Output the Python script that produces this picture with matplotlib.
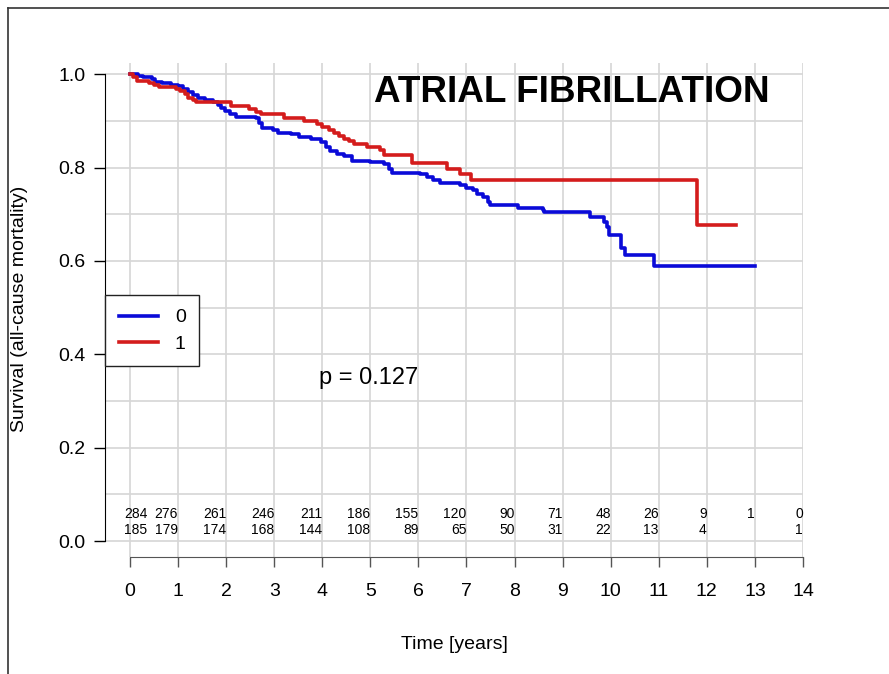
import matplotlib
matplotlib.use('Agg')

import numpy as np
import matplotlib.pyplot as plt
from matplotlib.lines import Line2D

plt.rcParams['font.family'] = ['Liberation Sans', 'DejaVu Sans']

# group 0 (no AF), step points
t0 = [0, 0.17, 0.28, 0.45, 0.52, 0.66, 0.86, 1.0, 1.1, 1.21, 1.31, 1.41, 1.55,
      1.72, 1.83, 1.9, 1.97, 2.07, 2.21, 2.62, 2.69, 2.74, 2.97, 3.07, 3.34, 3.52,
      3.76, 3.97, 4.07, 4.17, 4.31, 4.45, 4.62, 5.0, 5.28, 5.38, 5.45, 6.03, 6.17,
      6.31, 6.45, 6.86, 7.0, 7.14, 7.21, 7.34, 7.45, 7.48, 8.07, 8.59, 8.62, 9.57,
      9.86, 9.93, 9.97, 10.22, 10.29, 10.9, 13.0]
s0 = [1.0, 0.997, 0.993, 0.990, 0.983, 0.981, 0.977, 0.974, 0.969, 0.962, 0.956, 0.949, 0.945,
      0.941, 0.934, 0.927, 0.921, 0.914, 0.909, 0.906, 0.895, 0.884, 0.881, 0.874, 0.871, 0.865,
      0.861, 0.854, 0.844, 0.835, 0.830, 0.824, 0.815, 0.812, 0.807, 0.798, 0.789, 0.787, 0.780,
      0.773, 0.768, 0.763, 0.756, 0.751, 0.744, 0.737, 0.726, 0.720, 0.714, 0.710, 0.704, 0.694,
      0.684, 0.673, 0.656, 0.627, 0.612, 0.589, 0.589]

# group 1 (AF)
t1 = [0, 0.07, 0.14, 0.4, 0.5, 0.6, 0.95, 1.03, 1.14, 1.21, 1.31, 1.38, 2.1, 2.48,
      2.62, 2.72, 3.2, 3.62, 3.9, 4.0, 4.14, 4.24, 4.34, 4.45, 4.55, 4.66, 4.93, 5.21,
      5.28, 5.86, 6.59, 6.86, 7.1, 11.79, 12.6]
s1 = [1.0, 0.993, 0.986, 0.981, 0.976, 0.972, 0.969, 0.964, 0.957, 0.950, 0.945, 0.941, 0.931, 0.926,
      0.920, 0.914, 0.907, 0.900, 0.894, 0.886, 0.881, 0.875, 0.868, 0.861, 0.856, 0.851, 0.844, 0.838,
      0.827, 0.810, 0.798, 0.787, 0.773, 0.677, 0.677]

risk_times = list(range(15))
risk0 = ['284', '276', '261', '246', '211', '186', '155', '120', '90', '71', '48', '26', '9', '1', '0']
risk1 = ['185', '179', '174', '168', '144', '108', '89', '65', '50', '31', '22', '13', '4', '', '1']

group_labels = ['0', '1']
colors = ['#0a0ad8', '#d41c1c']

fig = plt.figure(figsize=(8.89, 6.74), dpi=100)
ax = fig.add_axes([105/889., 1 - 557/674., 698/889., 494/674.])

ax.set_xlim(-0.52, 14.0)
ax.set_ylim(-0.034, 1.024)

ax.set_xticks(np.arange(0, 15, 1), minor=False)
ax.set_yticks(np.arange(0, 1.01, 0.1), minor=True)
ax.set_yticks([0, 0.2, 0.4, 0.6, 0.8, 1.0])
ax.set_yticklabels(['0.0', '0.2', '0.4', '0.6', '0.8', '1.0'])
ax.grid(True, which='both', color='#d6d6d6', linewidth=1.2)
ax.tick_params(axis='y', which='minor', length=0)
ax.set_axisbelow(True)

for side in ['top', 'right']:
    ax.spines[side].set_visible(False)
ax.spines['left'].set_bounds(0, 1)
ax.spines['bottom'].set_bounds(0, 14)
ax.spines['bottom'].set_color('#555555')
ax.tick_params(axis='y', labelsize=14, length=8, width=1, pad=6)
ax.tick_params(axis='x', labelsize=14, length=7, width=1, pad=12, color='#555555')

ax.step(t0, s0, where='post', color=colors[0], linewidth=2.6, label=group_labels[0])
ax.step(t1, s1, where='post', color=colors[1], linewidth=2.6, label=group_labels[1])

# numbers at risk
for i in range(len(risk_times)):
    x = risk_times[i]
    if i == 0:
        x = 0.36
    ax.text(x, 0.058, risk0[i], ha='right', va='center', fontsize=10)
    ax.text(x, 0.024, risk1[i], ha='right', va='center', fontsize=10)

ax.text(9.2, 0.961, 'ATRIAL FIBRILLATION', ha='center', va='center',
        fontsize=26.6, fontweight='bold')
ax.text(3.93, 0.349, 'p = 0.127', ha='left', va='center', fontsize=17)

leg = ax.legend(loc='upper left', bbox_to_anchor=(0, 0.530), borderaxespad=0,
                fontsize=14, handlelength=2.05, handletextpad=0.85, borderpad=0.7,
                labelspacing=0.45, fancybox=False, framealpha=1)
leg.get_frame().set_edgecolor('#222222')
leg.get_frame().set_linewidth(1)

ax.set_xlabel('Time [years]', fontsize=14)
ax.xaxis.set_label_coords(0.5, -0.16)
fig.text(20/889., 1 - 309/674., 'Survival (all-cause mortality)', rotation=90,
         ha='center', va='center', fontsize=14)

# frame lines at top and left edge
fig.add_artist(Line2D([8/889., 8/889.], [0, 1 - 8/674.], transform=fig.transFigure,
                      color='#333333', linewidth=1.2))
fig.add_artist(Line2D([8/889., 1], [1 - 8/674., 1 - 8/674.], transform=fig.transFigure,
                      color='#333333', linewidth=1.2))

plt.savefig('out.png', dpi=100)
